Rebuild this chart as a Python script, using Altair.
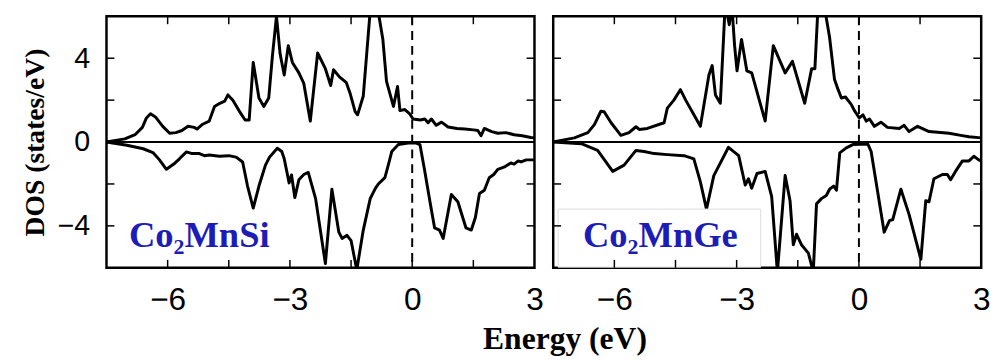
import altair as alt
import pandas as pd

# ---------------- data ----------------
# Co2MnSi, spin up
si_up_E = [-7.5, -7.05, -6.8, -6.62, -6.52, -6.42, -6.3, -6.12, -5.95, -5.8, -5.65, -5.5, -5.35, -5.28,
           -5.14, -4.98, -4.85, -4.72, -4.6, -4.52, -4.4, -4.25, -4.1, -4.0, -3.9, -3.76, -3.64, -3.52,
           -3.43, -3.33, -3.24, -3.14, -3.04, -2.94, -2.78, -2.66, -2.5, -2.32, -2.13, -2.0, -1.93, -1.78,
           -1.62, -1.52, -1.4, -1.34, -1.2, -1.0, -0.9, -0.72, -0.63, -0.46, -0.36, -0.3, -0.18, -0.06,
           0.02, 0.2, 0.31, 0.39, 0.47, 0.59, 0.72, 0.88, 1.1, 1.29, 1.5, 1.61, 1.69, 1.77, 1.95, 2.1,
           2.3, 2.5, 2.7, 2.91, 3.0]
si_up_D = [0.0, 0.15, 0.35, 0.7, 1.15, 1.35, 1.2, 0.75, 0.42, 0.45, 0.55, 0.75, 0.7, 0.62,
           0.85, 1.0, 1.7, 1.85, 1.95, 2.25, 2.0, 1.5, 1.05, 1.05, 3.8, 2.1, 1.7, 2.1,
           4.1, 6.0, 4.2, 3.2, 4.6, 3.8, 3.3, 2.8, 1.0, 4.25, 3.5, 2.7, 3.45, 3.1,
           2.85, 2.3, 1.45, 1.3, 2.2, 7.0, 7.0, 4.9, 2.9, 1.7, 2.65, 1.5, 1.55, 1.35,
           1.1, 1.05, 1.1, 0.92, 1.1, 0.8, 0.95, 0.72, 0.65, 0.62, 0.58, 0.55, 0.3, 0.65, 0.5, 0.42,
           0.45, 0.35, 0.3, 0.22, 0.2]
# Co2MnSi, spin down
si_dn_E = [-7.5, -7.0, -6.6, -6.36, -6.2, -6.03, -5.85, -5.71, -5.54, -5.4, -5.22, -5.1, -4.98, -4.73,
           -4.5, -4.32, -4.16, -4.04, -3.9, -3.76, -3.6, -3.5, -3.31, -3.2, -3.14, -3.02, -2.96, -2.88,
           -2.78, -2.66, -2.55, -2.37, -2.13, -1.97, -1.8, -1.72, -1.6, -1.5, -1.36, -1.2, -1.03, -0.9,
           -0.83, -0.67, -0.6, -0.5, -0.34, -0.1, 0.1, 0.19, 0.3, 0.45, 0.55, 0.67, 0.76, 0.96, 1.12,
           1.32, 1.45, 1.55, 1.65, 1.77, 1.89, 2.0, 2.1, 2.25, 2.42, 2.5, 2.6, 2.67, 2.8, 3.0]
si_dn_D = [0.0, -0.15, -0.32, -0.5, -0.85, -1.3, -1.05, -0.8, -0.47, -0.55, -0.55, -0.65, -0.62, -0.68,
           -0.65, -0.72, -0.95, -2.1, -3.15, -2.1, -1.1, -0.72, -0.3, -0.45, -0.8, -1.95, -1.57, -2.65,
           -1.8, -1.55, -1.45, -2.7, -5.8, -2.25, -4.3, -4.6, -4.45, -4.7, -6.1, -4.2, -2.7, -2.2,
           -2.0, -1.7, -1.2, -0.45, -0.12, -0.05, -0.05, -0.12, -1.3, -3.0, -4.1, -4.2, -4.6, -2.5, -2.85,
           -4.1, -4.2, -3.6, -2.45, -2.3, -1.7, -1.55, -1.3, -1.2, -1.0, -1.05, -0.9, -0.95, -0.85, -0.85]
# Co2MnGe, spin up
ge_up_E = [-7.5, -6.98, -6.65, -6.49, -6.33, -6.25, -6.08, -5.84, -5.64, -5.47, -5.39, -5.19, -4.78,
           -4.7, -4.54, -4.38, -4.25, -3.89, -3.68, -3.6, -3.52, -3.4, -3.28, -3.18, -3.12, -3.05,
           -2.99, -2.88, -2.75, -2.63, -2.3, -2.1, -1.81, -1.63, -1.33, -1.16, -1.08, -1.0, -0.86,
           -0.72, -0.6, -0.51, -0.43, -0.33, -0.19, -0.11, 0.01, 0.1, 0.18, 0.26, 0.38, 0.54, 0.7,
           0.99, 1.11, 1.23, 1.44, 1.72, 2.21, 2.5, 2.7, 3.0]
ge_up_D = [0.0, 0.2, 0.45, 0.83, 1.47, 1.45, 0.92, 0.32, 0.45, 0.73, 0.6, 0.65, 0.92,
           1.62, 2.0, 2.5, 2.0, 0.75, 3.2, 3.65, 2.25, 1.85, 6.6, 5.6, 6.6, 4.6,
           3.4, 4.9, 3.4, 3.3, 1.0, 4.6, 3.3, 3.85, 1.85, 3.5, 3.5, 6.6, 6.6,
           5.0, 3.0, 2.5, 2.1, 2.15, 1.8, 1.5, 1.15, 1.3, 1.0, 1.1, 0.75, 0.95, 0.7,
           0.65, 0.8, 0.5, 0.75, 0.5, 0.42, 0.32, 0.25, 0.2]
# Co2MnGe, spin down
ge_dn_E = [-7.5, -6.81, -6.41, -6.04, -5.76, -5.47, -5.27, -5.02, -4.7, -4.29, -4.05, -3.89, -3.74,
           -3.56, -3.2, -2.95, -2.79, -2.71, -2.63, -2.5, -2.3, -2.14, -2.0, -1.81, -1.69, -1.61,
           -1.53, -1.41, -1.24, -1.12, -1.04, -0.92, -0.8, -0.72, -0.62, -0.55, -0.47, -0.31, -0.15,
           0.22, 0.3, 0.62, 0.75, 0.83, 1.03, 1.23, 1.52, 1.64, 1.72, 1.84, 2.05, 2.17, 2.25, 2.37,
           2.54, 2.7, 2.82, 2.94, 3.0]
ge_dn_D = [0.0, -0.08, -0.4, -1.4, -1.1, -0.4, -0.45, -0.55, -0.6, -0.65, -0.8, -1.9, -3.2,
           -1.6, -0.25, -0.65, -2.05, -1.75, -2.2, -1.5, -1.4, -2.6, -6.2, -1.6, -2.8, -4.9,
           -4.4, -4.9, -5.3, -6.2, -2.95, -2.7, -2.55, -2.25, -2.1, -2.3, -0.52, -0.28, -0.12,
           -0.1, -0.45, -4.3, -3.75, -3.7, -2.25, -3.45, -5.6, -2.8, -2.85, -1.75, -1.55, -1.55, -1.8, -1.4,
           -0.9, -0.9, -0.68, -0.85, -0.9]

labels = ["Co\u2082MnSi", "Co\u2082MnGe"]
x_tick_vals = [-6, -4.5, -3, -1.5, 0, 1.5]
y_tick_vals = [-4, -2, 0, 2, 4]
x_label_vals = [-6, -3, 0, 3]
y_label_vals = [-4, 0, 4]

# ---------------- chart ----------------
W, H = 434, 255
TL = 8
xscale = alt.Scale(domain=[-7.5, 3], nice=False, zero=False)
yscale = alt.Scale(domain=[-6, 6], nice=False, zero=False)


def panel(upE, upD, dnE, dnD, label, first, with_box):
    df = pd.DataFrame({"E": upE + dnE, "D": upD + dnD,
                       "spin": ["up"] * len(upE) + ["down"] * len(dnE)})
    xaxis = alt.Axis(values=x_label_vals, ticks=False, domain=False, grid=False,
                     labelFont="Liberation Sans", labelFontSize=32, labelPadding=17,
                     labelFlush=False, labelOverlap=False, labelColor="black", title=None)
    if first:
        yaxis = alt.Axis(values=y_label_vals, ticks=False, domain=False, grid=False,
                         labelFont="Liberation Sans", labelFontSize=29, labelPadding=17,
                         labelColor="black", title="DOS (states/eV)",
                         titleFont="Liberation Serif", titleFontWeight="bold",
                         titleFontSize=28, titlePadding=8, titleColor="black")
    else:
        yaxis = None

    def X(f="E:Q"):
        return alt.X(f, scale=xscale, axis=xaxis)

    def Y(f="D:Q"):
        return alt.Y(f, scale=yscale, axis=yaxis)

    curves = alt.Chart(df).mark_line(color="black", strokeWidth=3, clip=True,
                                     strokeJoin="round").encode(
        x=X(), y=Y(), detail="spin:N")
    zero = alt.Chart(pd.DataFrame({"D": [0]})).mark_rule(color="black", strokeWidth=2).encode(y=Y())
    fermi = alt.Chart(pd.DataFrame({"E": [0]})).mark_rule(
        color="black", strokeWidth=2, strokeDash=[9, 6]).encode(x=X())
    ydf = pd.DataFrame({"D": y_tick_vals})
    xdf = pd.DataFrame({"E": x_tick_vals})
    tl = alt.Chart(ydf).mark_rule(color="black", strokeWidth=1.5).encode(
        y=Y(), x=alt.value(0), x2=alt.value(TL))
    tr = alt.Chart(ydf).mark_rule(color="black", strokeWidth=1.5).encode(
        y=Y(), x=alt.value(W - TL), x2=alt.value(W))
    tb = alt.Chart(xdf).mark_rule(color="black", strokeWidth=1.5).encode(
        x=X(), y=alt.value(H - TL), y2=alt.value(H))
    tt = alt.Chart(xdf).mark_rule(color="black", strokeWidth=1.5).encode(
        x=X(), y=alt.value(0), y2=alt.value(TL))
    layers = [curves, zero, fermi]
    if with_box:
        box = alt.Chart(pd.DataFrame({"E": [-7.38], "E2": [-2.41], "D": [-3.2], "D2": [-5.97]})).mark_rect(
            fill="white", stroke="#dcdcdc", strokeWidth=1).encode(
            x=X(), x2="E2:Q", y=Y(), y2="D2:Q")
        layers.append(box)
        tx, ty = -6.77, -5.0
    else:
        tx, ty = -6.95, -5.0
    txt = alt.Chart(pd.DataFrame({"E": [tx], "D": [ty], "t": [label]})).mark_text(
        align="left", baseline="alphabetic", font="Liberation Serif", fontWeight="bold",
        fontSize=37, color="#1c1cb8").encode(x=X(), y=Y(), text="t:N")
    layers += [txt, tl, tr, tb, tt]
    return alt.layer(*layers).properties(width=W, height=H)


left = panel(si_up_E, si_up_D, si_dn_E, si_dn_D, labels[0], True, False)
right = panel(ge_up_E, ge_up_D, ge_dn_E, ge_dn_D, labels[1], False, True)

chart = alt.hconcat(left, right, spacing=19, bounds="flush").properties(
    title=alt.TitleParams(text="Energy (eV)", orient="bottom", anchor="middle",
                          font="Liberation Serif", fontSize=32, fontWeight="bold",
                          color="black", dx=60, offset=8),
    padding={"left": 20, "top": 11, "right": 3, "bottom": 4},
    background="white",
).configure_view(stroke="black", strokeWidth=2.5)

chart.save("out.html", embed_options={"renderer": "svg", "actions": False})
